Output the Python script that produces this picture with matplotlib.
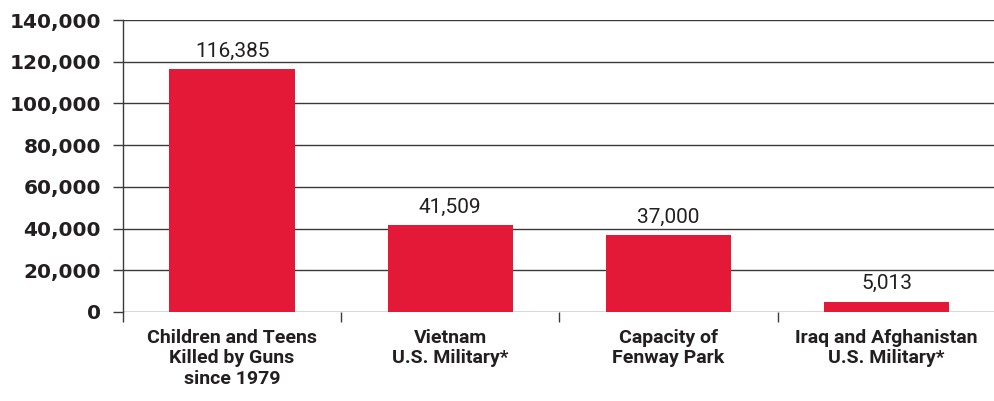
import matplotlib
matplotlib.use("Agg")
import matplotlib.pyplot as plt
from matplotlib.ticker import FuncFormatter

categories = [
    "Children and Teens\nKilled by Guns\nsince 1979",
    "Vietnam\nU.S. Military*",
    "Capacity of\nFenway Park",
    "Iraq and Afghanistan\nU.S. Military*",
]
values = [116385, 41509, 37000, 5013]
y_ticks = [0, 20000, 40000, 60000, 80000, 100000, 120000, 140000]

bar_color = "#E31937"
line_color = "#3a3a3a"
text_color = "#231f20"
narrow = ["Liberation Sans Narrow", "Roboto", "DejaVu Sans"]

fig = plt.figure(figsize=(9.95, 4.01), dpi=100)
ax = fig.add_axes([0.1236, 0.222, 0.886, 0.728])

x = list(range(len(values)))
ax.bar(x, values, width=0.575, color=bar_color, zorder=3)

for xi, v in zip(x, values):
    ax.annotate(f"{v:,}", (xi, v), xytext=(0, 6), textcoords="offset points",
                ha="center", va="bottom", fontsize=15, color=text_color,
                family=["Roboto", "DejaVu Sans"])

ax.set_xlim(-0.5, len(values) - 0.5 + 0.04)
ax.set_ylim(0, 140000)
ax.set_yticks(y_ticks)
ax.yaxis.set_major_formatter(FuncFormatter(lambda v, _: f"{int(v):,}"))
ax.yaxis.grid(True, color=line_color, linewidth=1.0, zorder=0)

ax.set_xticks(x)
ax.set_xticklabels(categories, family=narrow, fontweight="bold", fontsize=14,
                   color=text_color, linespacing=1.2)
ax.set_xticks([-0.5, 0.5, 1.5, 2.5], minor=True)
ax.tick_params(axis="x", which="major", length=0, pad=12)
ax.tick_params(axis="x", which="minor", length=7, width=1.0, color=line_color)
ax.tick_params(axis="y", length=7, width=1.0, color=line_color, pad=9,
               labelsize=14.5, labelcolor=text_color)
for lbl in ax.get_yticklabels():
    lbl.set_fontweight("bold")

for side in ["top", "right", "bottom"]:
    ax.spines[side].set_visible(False)
ax.spines["left"].set_color(line_color)
ax.spines["left"].set_linewidth(1.0)

fig.savefig("out.png", dpi=100)
